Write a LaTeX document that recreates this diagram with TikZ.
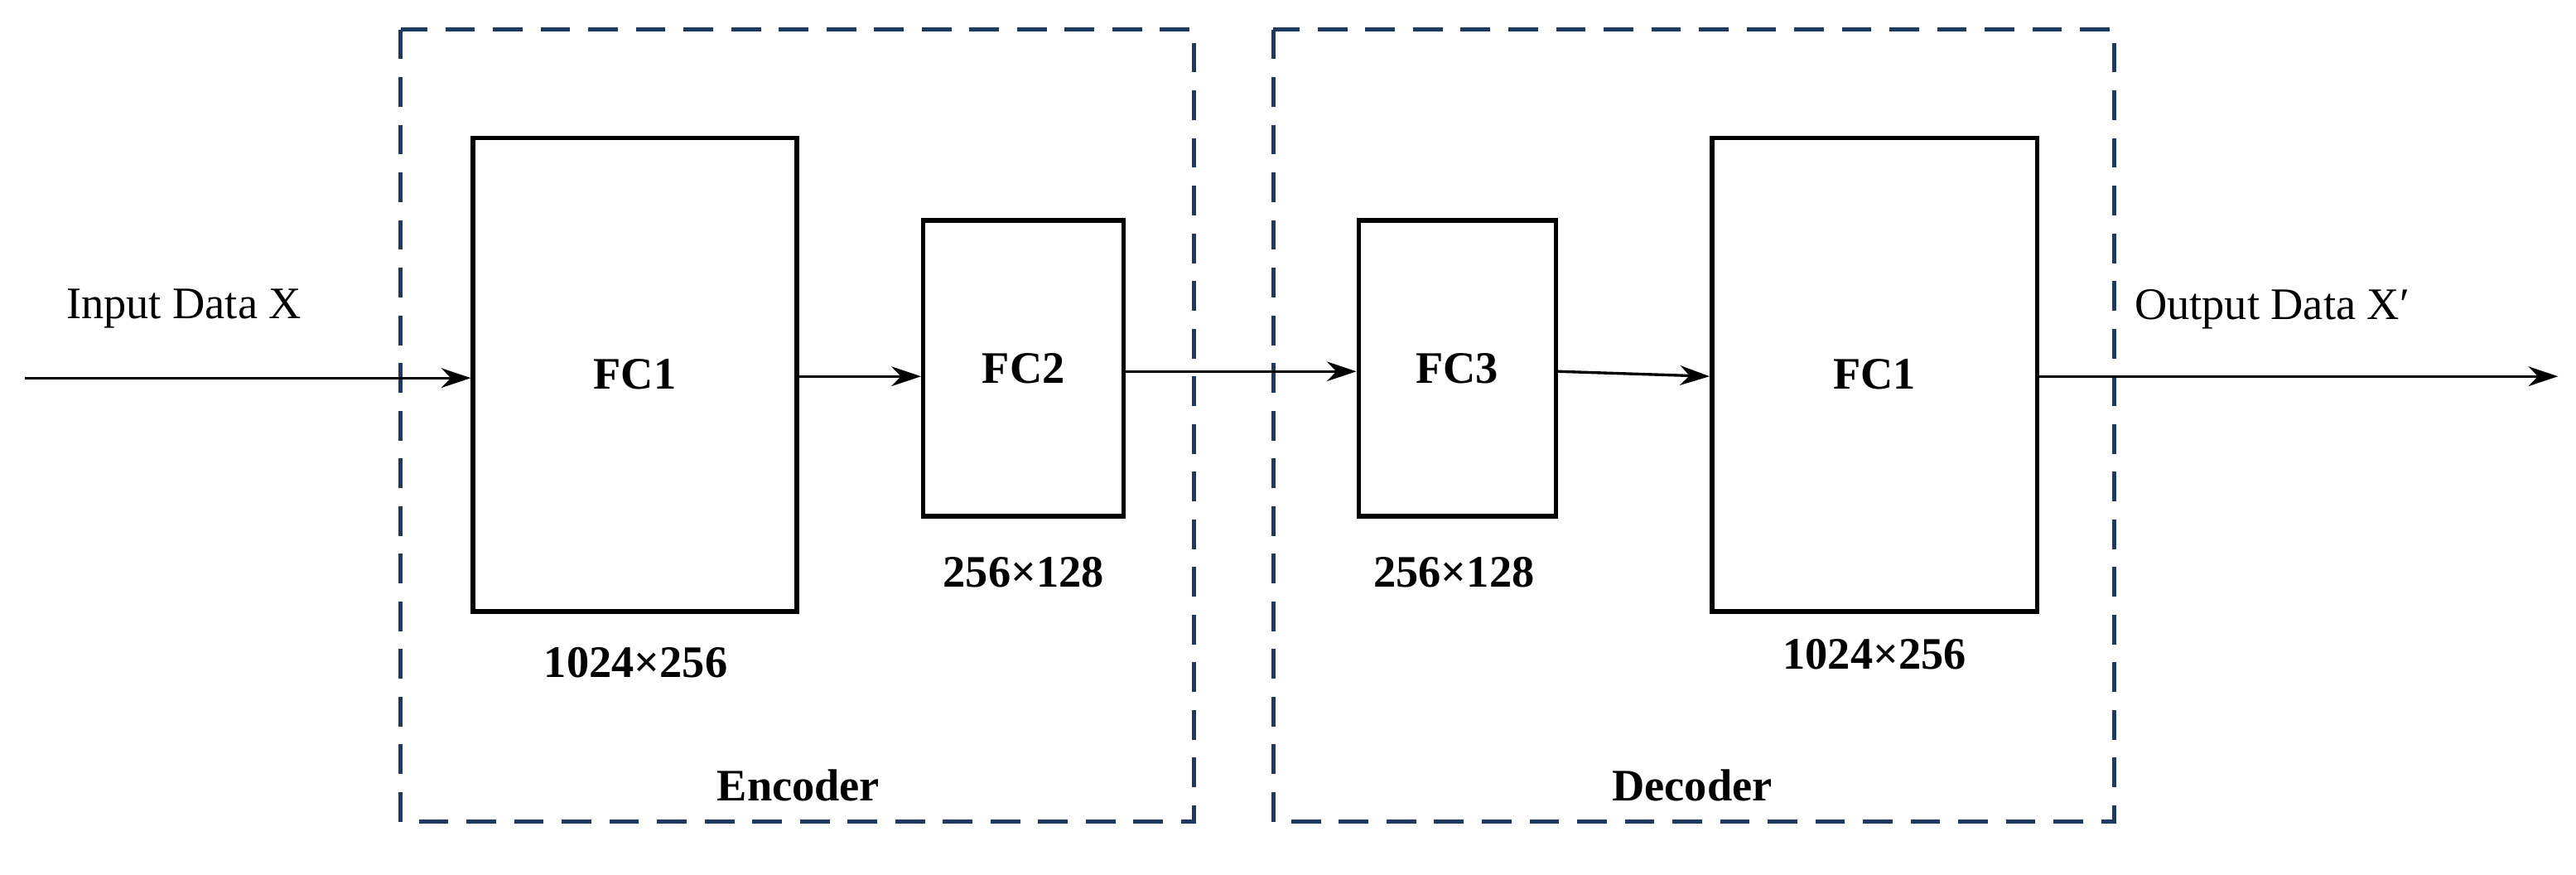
\documentclass[tikz,border=0pt]{standalone}
\usepackage{fontspec}
\setmainfont{Liberation Serif}
\usetikzlibrary{arrows.meta}
\definecolor{dash}{HTML}{1F3A5F}
\begin{document}
\begin{tikzpicture}[x=0.05cm,y=-0.05cm,
 blk/.style={draw,line width=4pt,inner sep=0},
 grp/.style={draw=dash,line width=3.6pt,dash pattern=on 0.9cm off 0.55cm},
 arr/.style={line width=2.4pt,-{Stealth[length=0.9cm,width=0.6cm]}},
 lab/.style={font=\fontsize{39}{44}\selectfont\bfseries},
 txt/.style={font=\fontsize{39}{44}\selectfont}]
\useasboundingbox (0,0) rectangle (1568,532);
\draw[grp] (244,18) rectangle (727,500);
\draw[grp] (775,18) rectangle (1287,500);
\node[blk,minimum width=197*0.05cm,minimum height=288*0.05cm] (a) at (386.5,228) {};
\node[blk,minimum width=122*0.05cm,minimum height=180*0.05cm] (b) at (623,224) {};
\node[blk,minimum width=120*0.05cm,minimum height=180*0.05cm] (c) at (887,224) {};
\node[blk,minimum width=198*0.05cm,minimum height=288*0.05cm] (d) at (1141,228) {};
\node[lab] at (a.center) {FC1};
\node[lab] at (b.center) {FC2};
\node[lab] at (c.center) {FC3};
\node[lab] at (d.center) {FC1};
\node[lab] at (387,403) {1024×256};
\node[lab] at (623,348) {256×128};
\node[lab] at (885,348) {256×128};
\node[lab] at (1141,398) {1024×256};
\node[lab] at (486,478) {Encoder};
\node[lab] at (1030,478) {Decoder};
\node[txt] at (112,188) {Input Data X};
\node[txt] at (1383,188) {Output Data X′};
\coordinate (in) at (15,230);
\coordinate (out) at (1557,229);
\draw[arr] (in) -- (a.west |- in);
\draw[arr] (a.east |- 0,229) -- (b.west |- 0,229);
\draw[arr] (b.east |- 0,226) -- (c.west |- 0,226);
\draw[arr] (c.east |- 0,226) -- (d.west |- 0,229);
\draw[arr] (d.east |- out) -- (out);
\end{tikzpicture}
\end{document}
